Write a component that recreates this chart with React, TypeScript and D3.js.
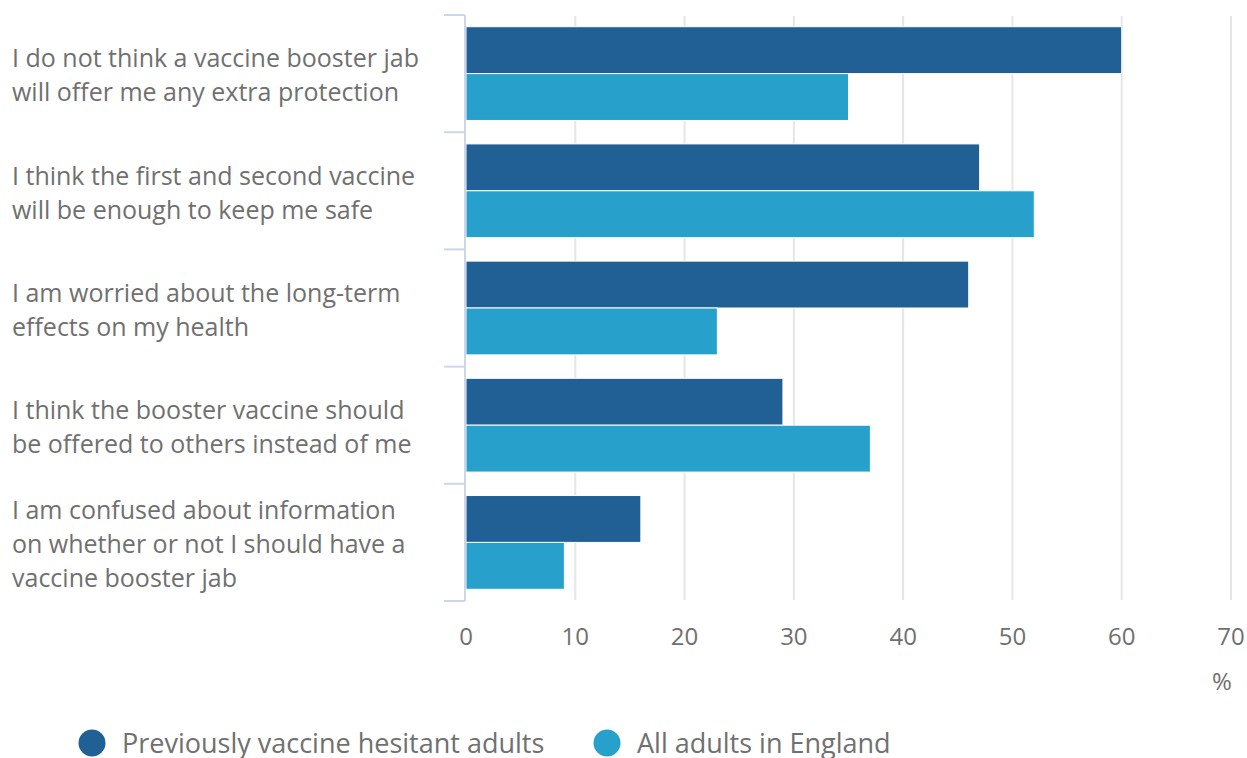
import React from "react";
import * as d3 from "d3";

const categories: string[][] = [
  ["I do not think a vaccine booster jab", "will offer me any extra protection"],
  ["I think the first and second vaccine", "will be enough to keep me safe"],
  ["I am worried about the long-term", "effects on my health"],
  ["I think the booster vaccine should", "be offered to others instead of me"],
  ["I am confused about information", "on whether or not I should have a", "vaccine booster jab"],
];
const seriesNames = ["Previously vaccine hesitant adults", "All adults in England"];
const hesitant = [60, 47, 46, 29, 16];
const allAdults = [35, 52, 23, 37, 9];
const xTicks = [0, 10, 20, 30, 40, 50, 60, 70];
const colors = ["#206095", "#27a0cc"];

const W = 1247;
const H = 758;

export default function App() {
  const x = d3.scaleLinear().domain([0, 70]).range([466, 1231]);
  const keys = categories.map((_, i) => String(i));
  const y = d3.scaleBand<string>().domain(keys).range([15, 601]).paddingInner(0.2).paddingOuter(0.1);
  const sub = d3.scaleBand<string>().domain(["0", "1"]).range([0, y.bandwidth()]);
  const step = y.step();
  const values = [hesitant, allAdults];
  const font = "'Open Sans', sans-serif";
  const textColor = "#707070";
  const lineH = 34;

  return (
    <svg width={W} height={H} style={{ position: "absolute", left: 0, top: 0, background: "#fff" }} fontFamily={font}>
      {xTicks.slice(1).map((t) => (
        <line key={"g" + t} x1={x(t)} x2={x(t)} y1={16} y2={600} stroke="#e6e6e6" strokeWidth={2} />
      ))}
      {values.map((vals, s) =>
        vals.map((v, i) => (
          <rect
            key={s + "-" + i}
            x={x(0)}
            y={(y(String(i)) as number) + (sub(String(s)) as number)}
            width={x(v) - x(0)}
            height={sub.bandwidth()}
            fill={colors[s]}
            stroke="#fff"
            strokeWidth={1}
          />
        ))
      )}
      <line x1={465} x2={465} y1={15} y2={601} stroke="#ccd6eb" strokeWidth={2} />
      {d3.range(categories.length + 1).map((i) => (
        <line key={"t" + i} x1={444} x2={465} y1={15 + i * step} y2={15 + i * step} stroke="#ccd6eb" strokeWidth={2} />
      ))}
      {categories.map((lines, i) => {
        const cy = (y(String(i)) as number) + y.bandwidth() / 2 + 2;
        const first = cy - ((lines.length - 1) * lineH) / 2;
        return (
          <text key={"c" + i} x={12} fill={textColor} fontSize={25}>
            {lines.map((l, j) => (
              <tspan key={j} x={12} y={first + j * lineH} dy="0.35em">
                {l}
              </tspan>
            ))}
          </text>
        );
      })}
      {xTicks.map((t) => (
        <text key={"x" + t} x={x(t)} y={645} textAnchor="middle" fill={textColor} fontSize={24}>
          {t}
        </text>
      ))}
      <text x={1222} y={690} textAnchor="middle" fill={textColor} fontSize={24}>
        %
      </text>
      <circle cx={92} cy={743} r={13.5} fill={colors[0]} />
      <text x={122} y={753} fill={textColor} fontSize={27}>
        {seriesNames[0]}
      </text>
      <circle cx={607} cy={743} r={13.5} fill={colors[1]} />
      <text x={637} y={753} fill={textColor} fontSize={27}>
        {seriesNames[1]}
      </text>
    </svg>
  );
}
